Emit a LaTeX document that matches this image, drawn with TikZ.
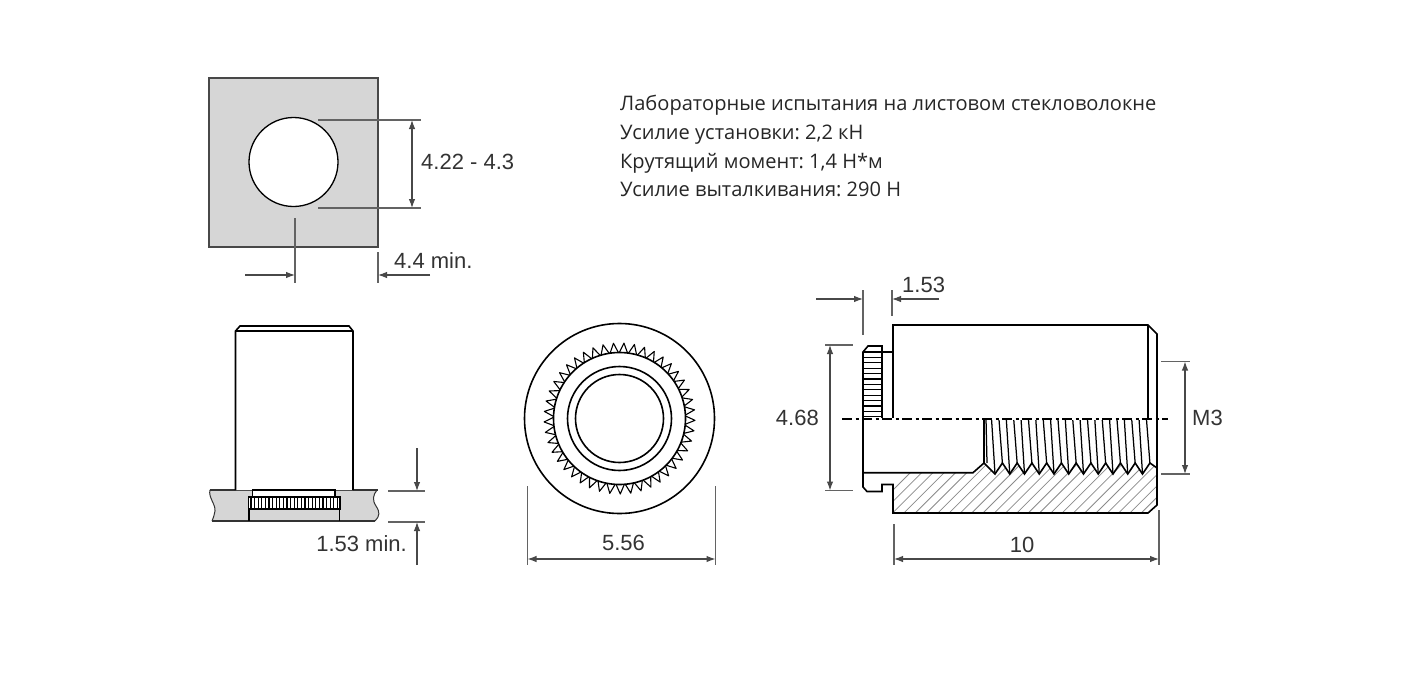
\documentclass[tikz,border=0pt]{standalone}
\usepackage{fontspec}
\setmainfont{Liberation Sans}
\newfontfamily\notefont{Open Sans}
\usetikzlibrary{arrows.meta, calc}

\definecolor{sheetgray}{HTML}{D6D6D6}
\definecolor{dimgray}{HTML}{484848}
\definecolor{hatchgray}{HTML}{8A8A8A}

\tikzset{
	part/.style={line width=1.6pt, black, line join=miter},
	thinpart/.style={line width=1.25pt, black},
	extline/.style={line width=1.15pt, dimgray!85},
	dimline/.style={line width=1.1pt, dimgray, -{Latex[length=9pt, width=6.5pt]}},
	dimboth/.style={line width=1.1pt, dimgray, {Latex[length=9pt, width=6.5pt]}-{Latex[length=9pt, width=6.5pt]}},
	dimlabel/.style={text=black!80, font=\fontsize{22}{24}\selectfont, inner sep=0pt},
	notelabel/.style={text=black!85, font=\notefont\fontsize{20.05}{24}\selectfont\frenchspacing, inner sep=0pt, anchor=base west},
}

\begin{document}
\begin{tikzpicture}[x=1pt, y=-1pt]
	% Parameters
	\def\axisy{418.5}
	\def\threadpitch{14.75}
	\def\rootfirst{995}
	\def\holerad{44.5pt}

	\useasboundingbox (0,0) rectangle (1416,672);

	% Sheet with the mounting hole
	\draw[line width=1.1pt, dimgray, fill=sheetgray] (209,78) rectangle (378,247);
	\coordinate (HoleC) at (293.5,162);
	\draw[line width=1.3pt, fill=white] (HoleC) circle (\holerad);

	% Hole dimensions
	\coordinate (HoleT) at (318,120);
	\coordinate (HoleB) at (318,208);
	\draw[extline] (HoleT) -- (421,120);
	\draw[extline] (HoleB) -- (421,208);
	\draw[dimboth] (412,120) -- (412,208);
	\node[dimlabel, anchor=west] (holelabel) at (421,162) {4.22 - 4.3};

	% Minimum edge distance
	\draw[extline] (295,218) -- (295,283);
	\draw[extline] (378,252) -- (378,283);
	\draw[dimline] (245,275) -- (295,275);
	\draw[dimline] (430,275) -- (378,275);
	\node[dimlabel, anchor=west] (edgelabel) at (394,261) {4.4 min.};

	% Notes
	\node[notelabel] (note1) at (620,110) {Лабораторные испытания на листовом стекловолокне};
	\node[notelabel] (note2) at (620,139) {Усилие установки: 2,2 кН};
	\node[notelabel] (note3) at (620,168) {Крутящий момент: 1,4 Н*м};
	\node[notelabel] (note4) at (620,196) {Усилие выталкивания: 290 Н};

	% Installed view: sheet
	\fill[sheetgray] (210,490) .. controls (208,497) and (216,505) .. (215,511) .. controls (214,516) and (213,519) .. (212,521)
		-- (375,521) .. controls (380,516) and (380,512) .. (376,506) .. controls (372,500) and (373,495) .. (377,490) -- cycle;
	\draw[line width=1pt, black!80] (210,490) .. controls (208,497) and (216,505) .. (215,511) .. controls (214,516) and (213,519) .. (212,521);
	\draw[line width=1pt, black!80] (375,521) .. controls (380,516) and (380,512) .. (376,506) .. controls (372,500) and (373,495) .. (377,490);
	\draw[part, black!80] (210,490) -- (378,490);
	\draw[part, black!80] (212,521) -- (375,521);

	% Installed view: body
	\draw[part, fill=white] (235.5,490) -- (235.5,331) -- (240,326) -- (349,326) -- (353,331) -- (353,490);
	\draw[part] (235.5,331) -- (353,331);

	% Installed view: knurl in the sheet
	\draw[thinpart, fill=white] (252.5,490) rectangle (335,497);
	\draw[thinpart, fill=white] (248.5,497) rectangle (340,509);
	\foreach \i in {0,...,24}
		\draw[line width=1.25pt] ({251+\i*3.6},497) -- ({251+\i*3.6},509);
	\draw[thinpart] (249,509) -- (249,521);
	\draw[thinpart] (339.5,509) -- (339.5,521);

	% Installed view: sheet thickness
	\draw[extline] (388,491) -- (425,491);
	\draw[extline] (388,522) -- (425,522);
	\draw[dimline] (417,448) -- (417,491);
	\draw[dimline] (417,565) -- (417,522);
	\node[dimlabel, anchor=east] (sheetlabel) at (407,544) {1.53 min.};

	% End view
	\coordinate (EndC) at (619.5,418.5);
	\draw[part] (EndC) circle (95pt);
	\draw[part] (EndC) circle (66pt);
	\draw[part] (EndC) circle (52pt);
	\draw[part] (EndC) circle (44pt);

	% End view: teeth
	\foreach \i in {0,...,44} {
		\pgfmathsetmacro\angA{\i*8+3.0}
		\pgfmathsetmacro\angB{\i*8+6.6}
		\pgfmathsetmacro\angC{\i*8+10.2}
		\draw[line width=1.1pt, line join=round] ($(EndC)+(\angA:66pt)$) -- ($(EndC)+(\angB:75.5pt)$) -- ($(EndC)+(\angC:66pt)$);
	}

	% End view: diameter
	\draw[extline] (527.5,486) -- (527.5,565);
	\draw[extline] (715.5,486) -- (715.5,565);
	\draw[dimboth] (527.5,559) -- (715.5,559);
	\node[dimlabel] (endlabel) at (623.5,543) {5.56};

	% Section view: hatch, clipped to the cut face
	\begin{scope}
		\clip (863,472.7) -- (973,472.7) -- (984,463)
			\foreach \j in {0,...,10} { -- ({\rootfirst+\j*\threadpitch},474) -- ({\rootfirst+7.4+\j*\threadpitch},463) }
			-- (1157,468) -- (1157,505) -- (1148,513) -- (893,513) -- (893,484.5) -- (882,484.5) -- (882,491.5) -- (867,491.5) -- (863,487) -- cycle;
		\foreach \k in {0,...,30}
			\draw[line width=0.8pt, hatchgray] ({870+\k*11.3},513) -- ({870+\k*11.3+55},458);
	\end{scope}

	% Section view: outer contour
	\draw[part] (893,\axisy) -- (893,325) -- (1148,325) -- (1157,334) -- (1157,505) -- (1148,513) -- (893,513) -- (893,484.5) -- (882,484.5) -- (882,491.5) -- (867,491.5) -- (863,487) -- (863,352) -- (868,346) -- (882,346) -- (882,\axisy);
	\draw[part] (1148,325) -- (1148,\axisy);
	\draw[thinpart] (882,352) -- (893,352);

	% Section view: flange knurl
	\foreach \i in {0,...,12}
		\draw[thinpart] (863,{352+\i*5.4}) -- (882,{352+\i*5.4});

	% Section view: bore and thread
	\draw[part] (863,472.7) -- (973,472.7) -- (984,463) -- (984,\axisy);
	\draw[part] (984,463)
		\foreach \j in {0,...,10} { -- ({\rootfirst+\j*\threadpitch},474) -- ({\rootfirst+7.4+\j*\threadpitch},463) }
		-- (1157,468);
	\foreach \j in {0,...,10} {
		\draw[thinpart] ({\rootfirst+\j*\threadpitch},474) -- ({\rootfirst-3.5+\j*\threadpitch},\axisy);
		\draw[thinpart] ({\rootfirst+7.4+\j*\threadpitch},463) -- ({\rootfirst+3.9+\j*\threadpitch},\axisy);
	}
	\draw[thinpart] (987,463) -- (986,\axisy);

	% Section view: axis
	\draw[white, line width=2pt] (842,\axisy) -- (1168,\axisy);
	\draw[line width=2pt, dash pattern=on 10pt off 3.5pt on 3pt off 3.5pt] (842,\axisy) -- (1168,\axisy);

	% Section view: flange width
	\draw[extline] (863,290) -- (863,335);
	\draw[extline] (892,290) -- (892,316);
	\draw[dimline] (816,299) -- (863,299);
	\draw[dimline] (939,299) -- (892,299);
	\node[dimlabel, anchor=west] (flangelabel) at (902,285) {1.53};

	% Section view: flange diameter
	\draw[extline] (825,345) -- (853,345);
	\draw[extline] (825,490.5) -- (853,490.5);
	\draw[dimboth] (830,345) -- (830,490.5);
	\node[dimlabel, anchor=east] (flangedia) at (819,418) {4.68};

	% Section view: thread
	\draw[extline] (1161,361.5) -- (1190,361.5);
	\draw[extline] (1161,474) -- (1190,474);
	\draw[dimboth] (1185,361.5) -- (1185,474);
	\node[dimlabel, anchor=west] (threadlabel) at (1192,418) {M3};

	% Section view: length
	\draw[extline] (894,524) -- (894,565);
	\draw[extline] (1159,510) -- (1159,565);
	\draw[dimboth] (894,559) -- (1159,559);
	\node[dimlabel] (lengthlabel) at (1022,545) {10};
\end{tikzpicture}
\end{document}
